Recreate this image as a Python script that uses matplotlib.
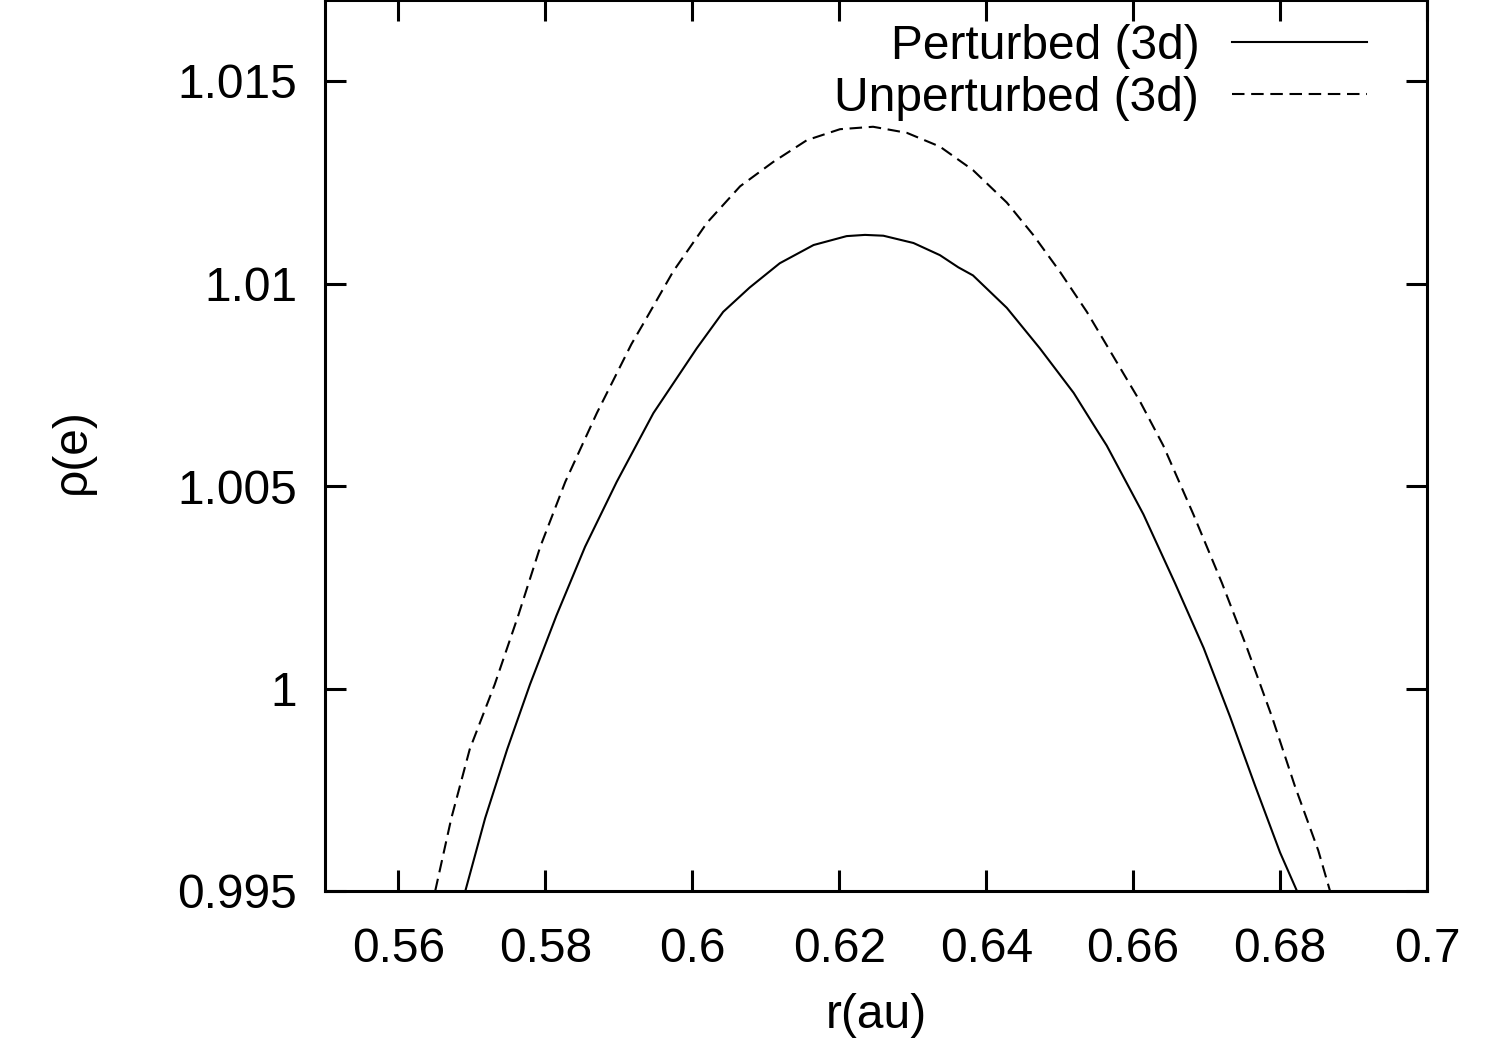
import matplotlib
matplotlib.use("Agg")
import matplotlib.pyplot as plt

plt.rcParams['font.family'] = ['Liberation Sans', 'DejaVu Sans']

# values
r_pert = [0.5691, 0.5718, 0.5748, 0.5779, 0.5815, 0.5854, 0.5897, 0.5947, 0.6006,
          0.6042, 0.6078, 0.6119, 0.6165, 0.6210, 0.6235, 0.6260, 0.6301, 0.6337,
          0.6362, 0.6382, 0.6428, 0.6473, 0.6519, 0.6550, 0.6564, 0.6614, 0.6657,
          0.6696, 0.6732, 0.6766, 0.6800, 0.6823]
rho_pert = [0.9950, 0.9968, 0.9985, 1.0001, 1.0018, 1.0035, 1.0051, 1.0068, 1.0084,
            1.0093, 1.0099, 1.0105, 1.01095, 1.01117, 1.0112, 1.01118, 1.0110, 1.0107,
            1.0104, 1.0102, 1.0094, 1.0084, 1.0073, 1.0064, 1.0060, 1.0043, 1.0026,
            1.0010, 0.9993, 0.9976, 0.99595, 0.9950]

r_unpert = [0.5650, 0.5672, 0.5697, 0.5731, 0.5763, 0.5793, 0.5827, 0.5870, 0.5917,
            0.5933, 0.5974, 0.6020, 0.6065, 0.6110, 0.6156, 0.6201, 0.6246, 0.6292,
            0.6337, 0.6382, 0.6428, 0.6464, 0.6500, 0.6537, 0.6573, 0.6609, 0.6641,
            0.6682, 0.6721, 0.6755, 0.6789, 0.6820, 0.6852, 0.6868]
rho_unpert = [0.9950, 0.9968, 0.9985, 1.0001, 1.0018, 1.0035, 1.0051, 1.0068, 1.0085,
              1.0090, 1.0103, 1.0115, 1.0124, 1.0130, 1.01354, 1.01381, 1.01387, 1.01372,
              1.01338, 1.0128, 1.0120, 1.0112, 1.0103, 1.0093, 1.0082, 1.0071, 1.0060,
              1.0043, 1.0026, 1.0010, 0.9993, 0.9976, 0.9960, 0.9950]

x_ticks = [0.56, 0.58, 0.60, 0.62, 0.64, 0.66, 0.68, 0.70]
x_labels = ['0.56', '0.58', '0.6', '0.62', '0.64', '0.66', '0.68', '0.7']
y_ticks = [0.995, 1.0, 1.005, 1.01, 1.015]
y_labels = ['0.995', '1', '1.005', '1.01', '1.015']

fs = 34.5

fig = plt.figure(figsize=(15, 10.49), dpi=100)
ax = fig.add_axes([325 / 1500, 158 / 1049, 1102 / 1500, 891 / 1049])

ax.plot(r_pert, rho_pert, color='black', linewidth=1.5, solid_joinstyle='round',
        label='Perturbed (3d)')
ax.plot(r_unpert, rho_unpert, color='black', linewidth=1.5, dashes=(6, 3.2),
        label='Unperturbed (3d)')

ax.set_xlim(0.55, 0.70)
ax.set_ylim(0.995, 1.017)
ax.set_xticks(x_ticks)
ax.set_xticklabels(x_labels)
ax.set_yticks(y_ticks)
ax.set_yticklabels(y_labels)

ax.tick_params(direction='in', top=True, right=True, length=15, width=2.2,
               labelsize=fs)
ax.tick_params(axis='y', pad=20)
ax.tick_params(axis='x', pad=26)
for s in ax.spines.values():
    s.set_linewidth(2.2)

ax.set_xlabel('r(au)', fontsize=fs)
ax.xaxis.set_label_coords(0.5, -124 / 891)
ax.xaxis.label.set_va('center')
ax.set_ylabel('ρ(e)', fontsize=fs)
ax.yaxis.set_label_coords(-253 / 1102, 440 / 891)
ax.yaxis.label.set_va('center')

ax.legend(loc='upper right', bbox_to_anchor=(1367 / 1500, 1 - 24 / 1049),
          bbox_transform=fig.transFigure, frameon=False, markerfirst=False,
          fontsize=fs, handlelength=2.82, handletextpad=0.68, labelspacing=0.14,
          borderpad=0, borderaxespad=0)

fig.savefig('out.png', dpi=100)
